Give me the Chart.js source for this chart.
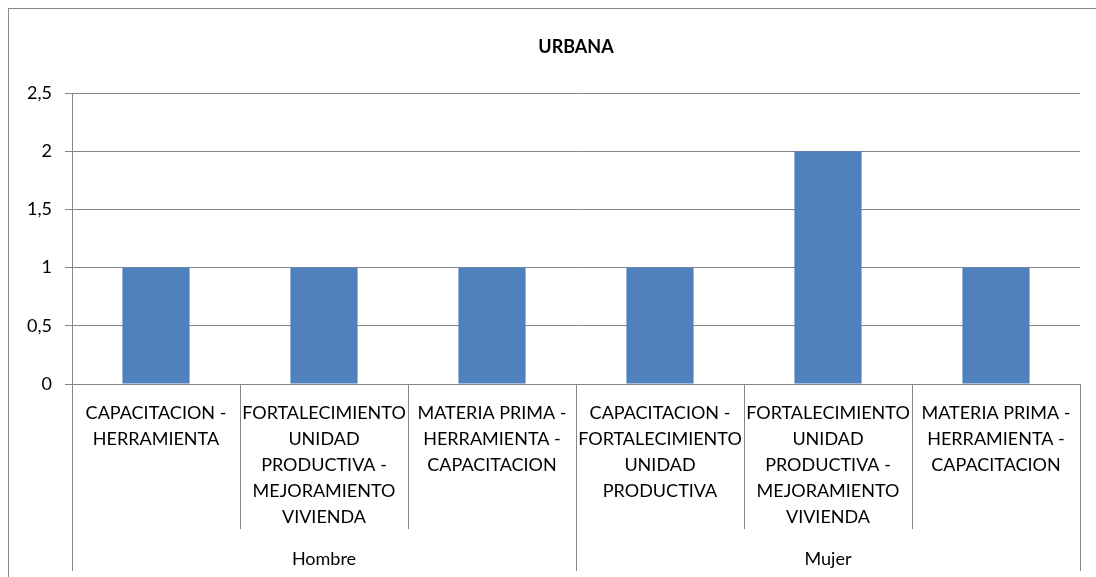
<!DOCTYPE html>
<html>
<head>
<meta charset="utf-8">
<script src="https://cdn.jsdelivr.net/npm/chart.js@4/dist/chart.umd.min.js"></script>
<style>
  html, body { margin: 0; padding: 0; background: #fff; overflow: hidden; }
  #wrap { position: relative; width: 1096px; height: 577px; overflow: hidden; }
  #frame { position: absolute; left: 8px; top: 8px; width: 1200px; height: 700px;
           border-left: 1px solid #898989; border-top: 1px solid #898989; }
  canvas { position: absolute; left: 0; top: 0; }
</style>
</head>
<body>
<div id="wrap">
  <div id="frame"></div>
  <canvas id="c" width="1096" height="577"></canvas>
</div>
<script>
const chartTitle = "URBANA";
const categories = [
  ["CAPACITACION -", "HERRAMIENTA"],
  ["FORTALECIMIENTO", "UNIDAD", "PRODUCTIVA -", "MEJORAMIENTO", "VIVIENDA"],
  ["MATERIA PRIMA -", "HERRAMIENTA -", "CAPACITACION"],
  ["CAPACITACION -", "FORTALECIMIENTO", "UNIDAD", "PRODUCTIVA"],
  ["FORTALECIMIENTO", "UNIDAD", "PRODUCTIVA -", "MEJORAMIENTO", "VIVIENDA"],
  ["MATERIA PRIMA -", "HERRAMIENTA -", "CAPACITACION"]
];
const groups = ["Hombre", "Mujer"];
const groupSizes = [3, 3];
const values = [1, 1, 1, 1, 2, 1];
const yTicks = [0, 0.5, 1, 1.5, 2, 2.5];

const GRAY = "#878787";
const FONT = "Lato, 'Open Sans', sans-serif";

const titleAndDividers = {
  id: "titleAndDividers",
  afterDraw(chart) {
    const ctx = chart.ctx;
    const x = chart.scales.x;
    const x2 = chart.scales.x2;
    const area = chart.chartArea;
    ctx.save();
    ctx.fillStyle = "#000";
    ctx.font = "bold 18px " + FONT;
    ctx.textAlign = "center";
    ctx.textBaseline = "middle";
    ctx.fillText(chartTitle, (area.left + area.right) / 2, 47);
    ctx.strokeStyle = GRAY;
    ctx.lineWidth = 1;
    const n = categories.length;
    const groupEdges = [0];
    let acc = 0;
    groupSizes.forEach(s => { acc += s; groupEdges.push(acc); });
    for (let i = 0; i <= n; i++) {
      let px;
      if (i === 0) px = x.left;
      else if (i === n) px = x.right;
      else px = (x.getPixelForValue(i - 1) + x.getPixelForValue(i)) / 2;
      px = Math.round(px) + 0.5;
      const isGroup = groupEdges.includes(i);
      const bottom = isGroup ? x2.bottom - 6 : x.bottom;
      ctx.beginPath();
      ctx.moveTo(px, area.bottom);
      ctx.lineTo(px, bottom);
      ctx.stroke();
    }
    ctx.restore();
  }
};

new Chart(document.getElementById("c"), {
  type: "bar",
  data: {
    labels: categories,
    datasets: [{
      data: values,
      backgroundColor: "#4F81BD",
      borderWidth: 0,
      barPercentage: 0.4,
      categoryPercentage: 1.0
    }]
  },
  options: {
    responsive: false,
    devicePixelRatio: 1,
    animation: false,
    events: [],
    layout: { padding: { top: 93, left: 0, right: 16, bottom: 0 } },
    plugins: { legend: { display: false }, title: { display: false }, tooltip: { enabled: false } },
    scales: {
      y: {
        min: 0, max: 2.5,
        afterFit(s) { s.width = 72; },
        afterBuildTicks(s) { s.ticks = yTicks.map(v => ({ value: v })); },
        ticks: {
          color: "#000",
          padding: 13,
          font: { family: FONT, size: 18 },
          callback: v => String(v).replace(".", ",")
        },
        grid: { color: GRAY, lineWidth: 1, tickLength: 7, drawTicks: true },
        border: { display: true, color: GRAY, width: 1 }
      },
      x: {
        type: "category",
        position: "bottom",
        offset: true,
        afterFit(s) { s.height = 145; },
        ticks: {
          color: "#000",
          padding: 8,
          maxRotation: 0,
          minRotation: 0,
          autoSkip: false,
          font: { family: FONT, size: 18, lineHeight: 26 / 18 }
        },
        grid: { display: false },
        border: { display: true, color: GRAY, width: 1 }
      },
      x2: {
        type: "category",
        position: "bottom",
        labels: groups,
        offset: true,
        afterFit(s) { s.height = 48; },
        ticks: {
          color: "#000",
          padding: 9,
          maxRotation: 0,
          autoSkip: false,
          font: { family: FONT, size: 18, lineHeight: 26 / 18 }
        },
        grid: { display: false },
        border: { display: false }
      }
    }
  },
  plugins: [titleAndDividers]
});
</script>
</body>
</html>
